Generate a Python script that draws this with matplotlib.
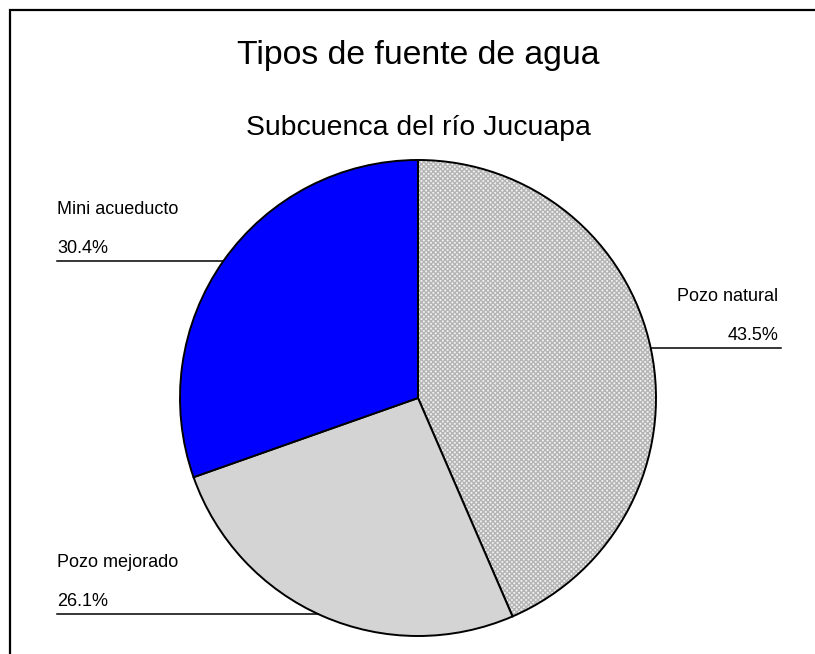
import numpy as np
import matplotlib
matplotlib.use("Agg")
import matplotlib.pyplot as plt

plt.rcParams['font.family'] = ['Liberation Sans', 'DejaVu Sans']

# data
categories = ['Pozo natural', 'Pozo mejorado', 'Mini acueducto']
shares = [43.5, 26.1, 30.4]
colors = ['#ffffff', '#d4d4d4', '#0000ff']
title = 'Tipos de fuente de agua'
subtitle = 'Subcuenca del río Jucuapa'

W, H = 815, 654
fig = plt.figure(figsize=(W / 100, H / 100), dpi=100)
ax = fig.add_axes([0, 0, 1, 1])

def py(y):
    # pixel row (from top) -> data y
    return H - y

cx, cy, r = 418, py(398), 238

wedges, _ = ax.pie(shares, colors=colors, startangle=90, counterclock=False,
                   center=(cx, cy), radius=r, frame=True,
                   wedgeprops=dict(edgecolor='black', linewidth=1.4))
ax.set_xlim(0, W)
ax.set_ylim(0, H)
ax.set_aspect('auto')
ax.axis('off')

# fine grey texture for the first slice
w0 = wedges[0]
tex = matplotlib.patches.Wedge((cx, cy), r, w0.theta1, w0.theta2,
                               facecolor='#f0f0f0', edgecolor='#b4b4b4',
                               hatch='xxxxxxx', linewidth=0, zorder=w0.get_zorder() - 0.1)
w0.set_facecolor('none')
ax.add_patch(tex)

# labels with leader lines, y = pixel row of the line
label_pos = {
    'Pozo natural': ('right', 778, 348),
    'Mini acueducto': ('left', 57, 261),
    'Pozo mejorado': ('left', 57, 614),
}
for name, val in zip(categories, shares):
    side, x, yl = label_pos[name]
    dy = cy - py(yl)
    edge = np.sqrt(r ** 2 - dy ** 2)
    if side == 'right':
        ax.plot([cx + edge, x + 3], [py(yl)] * 2, color='black', lw=1.1)
    else:
        ax.plot([x, cx - edge], [py(yl)] * 2, color='black', lw=1.1)
    ax.text(x, py(yl - 8), f'{val:.1f}%', ha=side, va='baseline', fontsize=13)
    ax.text(x, py(yl - 47), name, ha=side, va='baseline', fontsize=13)

ax.text(418, py(64), title, ha='center', va='baseline', fontsize=24.3)
ax.text(418, py(135), subtitle, ha='center', va='baseline', fontsize=20.4)

# outer frame (only top and left edges visible)
ax.plot([9.5, 9.5, W], [0, py(9.5), py(9.5)], color='black', lw=1.6,
        solid_joinstyle='miter')

fig.savefig('out.png', dpi=100)
